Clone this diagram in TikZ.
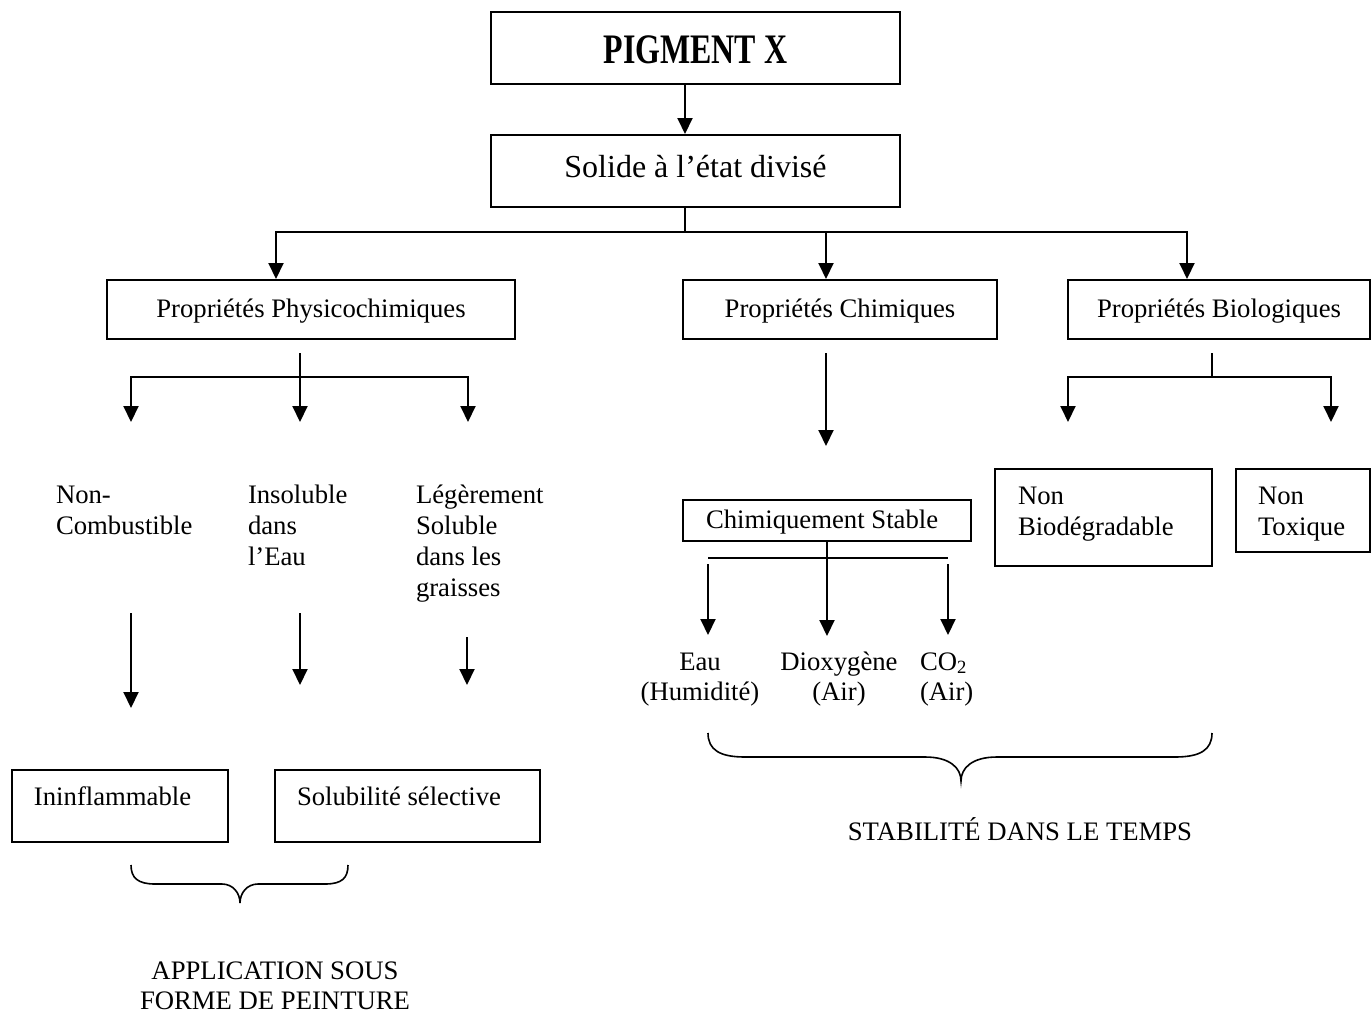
\documentclass[tikz,border=0pt]{standalone}
\usepackage{fontspec}
\usepackage{graphicx}
\setmainfont{Liberation Serif}
\usetikzlibrary{arrows.meta}
\newcommand{\smallfont}{\fontsize{26.7}{30.7}\selectfont}
\newcommand{\bigfont}{\fontsize{32}{36}\selectfont}

\begin{document}
\begin{tikzpicture}[x=1pt,y=-1pt,
  line width=2pt,
  box/.style={draw, rectangle, inner sep=0pt, line width=2pt},
  propbox/.style={box, minimum height=59pt, font=\smallfont, text height=15pt, text depth=0pt},
  arr/.style={-{Triangle[width=15pt,length=16pt]}, line width=2pt},
  txt/.style={font=\smallfont, inner sep=0pt},
  ml/.style={txt, anchor=north west, align=left, yshift=21.5pt},
  mc/.style={txt, anchor=north, align=center, yshift=21.5pt},
  brace/.style={line width=1.6pt},
]
\useasboundingbox (0,0) rectangle (1371,1015);
\fill[white] (0,0) rectangle (1371,1015);

% top of the tree
\node[box, minimum width=409pt, minimum height=72pt, text height=30pt, text depth=0pt]
  (pig) at (695.5,48) {\scalebox{0.76}[1]{\fontsize{42}{46}\selectfont\bfseries PIGMENT X}};
\node[box, minimum width=409pt, minimum height=72pt, font=\bigfont, text height=12pt, text depth=0pt]
  (sol) at (695.5,171) {Solide à l’état divisé};

% three families of properties
\node[propbox, minimum width=408pt] (phys) at (311,309.5) {Propriétés Physicochimiques};
\node[propbox, minimum width=314pt] (chim) at (840,309.5) {Propriétés Chimiques};
\node[propbox, minimum width=302pt] (bio)  at (1219,309.5) {Propriétés Biologiques};

% lower boxes
\node[box, minimum width=288pt, minimum height=41pt] (cs)  at (827,520.5) {};
\node[box, minimum width=217pt, minimum height=97pt] (nb)  at (1103.5,517.5) {};
\node[box, minimum width=134pt, minimum height=83pt] (nt)  at (1303,510.5) {};
\node[box, minimum width=216pt, minimum height=72pt] (inf) at (120,806) {};
\node[box, minimum width=265pt, minimum height=72pt] (ss)  at (407.5,806) {};

% texts
\node[txt, anchor=base west] (tcs) at (705,528) {Chimiquement Stable};
\node[ml] (tnb) at (1017,504) {\strut Non\\Biodégradable};
\node[ml] (tnt) at (1257,504) {\strut Non\\Toxique};
\node[txt, anchor=base west] (tinf) at (33,805) {Ininflammable};
\node[txt, anchor=base west] (tss) at (296,805) {Solubilité sélective};
\node[ml] (tnc)  at (55,503)  {\strut Non-\\Combustible};
\node[ml] (tins) at (247,503) {\strut Insoluble\\dans\\l’Eau};
\node[ml] (tleg) at (415,503) {\strut Légèrement\\Soluble\\dans les\\graisses};
\node[mc] (teau)  at (700,669) {\strut Eau\\(Humidité)};
\node[mc] (tdiox) at (839,669) {\strut Dioxygène\\(Air)};
\node[ml] (tco)   at (919,669) {\strut CO\textsubscript{2}\\(Air)};
\node[txt, anchor=base] (tstab) at (1020,840) {STABILITÉ DANS LE TEMPS};
\node[mc, font=\fontsize{26.7}{29.5}\selectfont, yshift=-0.8pt] (tapp) at (275,979) {\strut APPLICATION SOUS\\FORME DE PEINTURE};

% connectors from the pigment down to the property families
\draw[arr] ([xshift=-10.5pt]pig.south) -- ([xshift=-10.5pt]sol.north);
\coordinate (hub) at (685,232);
\draw ([xshift=-10.5pt]sol.south) -- (hub);
\draw[arr] (hub) -| ([xshift=-35pt]phys.north);
\draw[arr] (hub) -| ([xshift=-14pt]chim.north);
\draw[arr] (hub) -| ([xshift=-32pt]bio.north);

% physicochemical branch
\coordinate (pj) at (300,377);
\coordinate (pa) at (131,422);
\coordinate (pb) at (300,422);
\coordinate (pc) at (468,422);
\draw[arr] ([xshift=-11pt,yshift=-13pt]phys.south) -- (pb);
\draw[arr] (pj) -| (pa);
\draw[arr] (pj) -| (pc);

\draw[arr] (131,613) -- (131,708);
\draw[arr] (300,613) -- (300,685);
\draw[arr] (467,637) -- (467,685);

% chemical branch
\coordinate (ce) at (826,446);
\draw[arr] ([xshift=-14pt,yshift=-13pt]chim.south) -- (ce);
\draw (708,558) -- (948,558);
\draw[arr] (cs.south) -- ++(0,94);
\draw[arr] (708,564) -- (708,635);
\draw[arr] (948,564) -- (948,635);

% biological branch
\coordinate (bj) at (1212,377);
\coordinate (ba) at (1068,422);
\coordinate (bb) at (1331,422);
\draw ([xshift=-7pt,yshift=-13pt]bio.south) -- (bj);
\draw[arr] (bj) -| (ba);
\draw[arr] (bj) -| (bb);

% braces
\draw[brace] (131,865) .. controls (131,878) and (138,884) .. (155,884) -- (222,884)
  .. controls (233,884) and (240,893) .. (240,903)
  .. controls (240,893) and (247,884) .. (258,884) -- (325,884)
  .. controls (342,884) and (348,878) .. (348,865);
\draw[brace] (708,733) .. controls (708,750) and (720,757) .. (745,757) -- (925,757)
  .. controls (950,757) and (961,768) .. (961,781)
  .. controls (961,768) and (972,757) .. (997,757) -- (1175,757)
  .. controls (1200,757) and (1212,750) .. (1212,733);
\end{tikzpicture}
\end{document}
